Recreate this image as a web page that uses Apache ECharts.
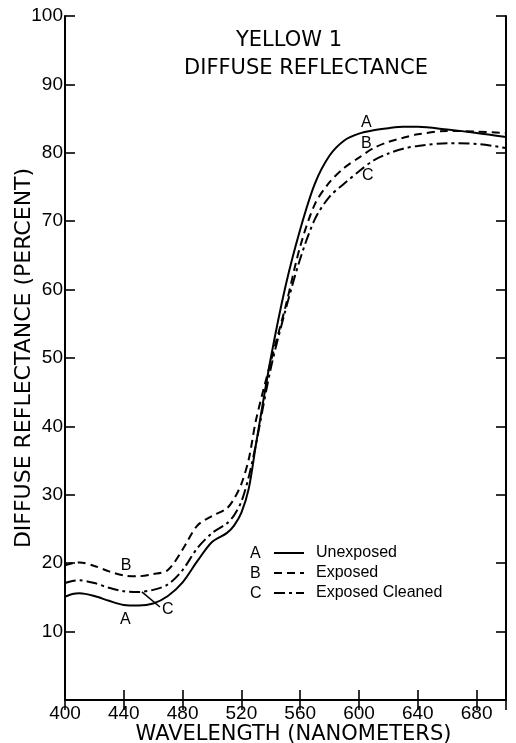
<!DOCTYPE html>
<html>
<head>
<meta charset="utf-8">
<script src="https://cdn.jsdelivr.net/npm/echarts@6/dist/echarts.min.js"></script>
<style>html,body{margin:0;padding:0;background:#fff}#c{width:516px;height:743px}</style>
</head>
<body>
<div id="c"></div>
<script>
const wavelengths = [400,405,410,420,430,440,450,460,470,480,490,500,510,515,520,525,530,540,550,560,570,580,590,600,610,620,630,640,660,680,700];
const unexposed   = [15.1,15.5,15.6,15.2,14.5,13.9,13.8,14.1,15.2,17.2,20.3,23.1,24.4,25.5,27.4,30.9,37.5,50.0,60.5,68.8,75.5,79.6,81.8,82.8,83.3,83.6,83.8,83.8,83.4,82.9,82.3];
const exposed     = [19.7,20.0,20.1,19.6,18.8,18.2,18.1,18.4,19.0,22.0,25.5,26.9,28.0,29.4,31.6,35.2,41.0,49.5,57.5,66.3,72.5,75.7,77.8,79.3,80.7,81.6,82.2,82.7,83.2,83.1,82.9];
const cleaned     = [17.1,17.4,17.5,17.1,16.4,15.9,15.8,16.1,16.9,19.0,22.2,24.4,25.8,27.0,29.0,32.6,37.5,48.5,57.0,64.5,70.3,73.6,75.5,77.3,78.9,79.9,80.6,81.0,81.4,81.3,80.7];
const seriesNames = ['Unexposed','Exposed','Exposed Cleaned'];
const seriesKeys  = ['A','B','C'];
const xTicks = [400,440,480,520,560,600,640,680];
const yTicks = [10,20,30,40,50,60,70,80,90,100];
const titleLines = ['YELLOW 1','DIFFUSE REFLECTANCE'];
const xName = 'WAVELENGTH (NANOMETERS)';
const yName = 'DIFFUSE REFLECTANCE (PERCENT)';
// curve annotation anchors [wavelength, percent]
const curveMarks = {
  A: [[605,84.4],[441,11.8]],
  B: [[605,81.3],[441.5,19.7]],
  C: [[606,76.6],[470,13.2]]
};
const leader = [[452.3,15.8],[464.6,13.6]];

const pair = arr => wavelengths.map((w,i)=>[w,arr[i]]);
const FONT = 'DejaVu Sans';
const NUMFONT = 'Liberation Sans';
const dashes = ['solid',[8,5],[11,4,3,4]];
const values = [unexposed, exposed, cleaned];

const chart = echarts.init(document.getElementById('c'), null, {renderer:'canvas'});
const axisCommon = {
  axisLine:{show:true,lineStyle:{color:'#000',width:2}},
  axisTick:{show:true,inside:true,length:10,lineStyle:{color:'#000',width:1.6}},
  splitLine:{show:false}
};
chart.setOption({
  backgroundColor:'#fff',
  animation:false,
  grid:{left:65,right:10,top:16,bottom:43,containLabel:false,outerBoundsMode:'none'},
  title:[
    {text:titleLines[0],left:284,top:25,textAlign:'center',textStyle:{fontFamily:FONT,fontWeight:'normal',fontSize:21,color:'#000'}},
    {text:titleLines[1],left:301,top:53,textAlign:'center',textStyle:{fontFamily:FONT,fontWeight:'normal',fontSize:21,color:'#000'}}
  ],
  legend:{
    orient:'vertical',left:273,top:545,padding:0,itemWidth:30,itemHeight:10,itemGap:4,
    data:seriesNames,
    itemStyle:{opacity:0},
    textStyle:{fontFamily:NUMFONT,fontSize:16,color:'#000',padding:[0,0,0,7]},
    selectedMode:false
  },
  graphic: seriesKeys.map((k,i)=>({type:'text',left:250,top:546+i*20,style:{text:k,font:'16px "Liberation Sans"',fill:'#000'}})),
  xAxis:[
    Object.assign({type:'value',min:400,max:700,interval:40,position:'bottom',
      name:xName,nameLocation:'middle',nameGap:24,nameMoveOverlap:false,
      nameTextStyle:{fontFamily:FONT,fontSize:21,color:'#000',padding:[0,0,0,16]},
      axisLabel:{margin:4,fontFamily:NUMFONT,fontSize:19,color:'#000',
        formatter:v=>xTicks.indexOf(v)>=0?String(v):''}},axisCommon),
    Object.assign({type:'value',min:400,max:700,interval:40,position:'top',axisLabel:{show:false}},axisCommon)
  ],
  yAxis:[
    Object.assign({type:'value',min:0,max:100,interval:10,position:'left',
      name:yName,nameLocation:'middle',nameGap:30,nameMoveOverlap:false,
      nameTextStyle:{fontFamily:FONT,fontSize:22,color:'#000'},
      axisLabel:{margin:2,fontFamily:NUMFONT,fontSize:19,color:'#000',
        formatter:v=>yTicks.indexOf(v)>=0?String(v):''}},axisCommon),
    Object.assign({type:'value',min:0,max:100,interval:10,position:'right',axisLabel:{show:false}},axisCommon)
  ],
  series: values.map((arr,i)=>({
    type:'line',name:seriesNames[i],data:pair(arr),smooth:0.3,symbol:'none',
    lineStyle:{color:'#000',width:2,type:dashes[i]},itemStyle:{color:'#000'},
    markPoint:{symbol:'circle',symbolSize:1,itemStyle:{color:'rgba(0,0,0,0)'},
      label:{show:true,position:'inside',formatter:seriesKeys[i],fontFamily:NUMFONT,fontSize:16,color:'#000'},
      data:curveMarks[seriesKeys[i]].map(c=>({coord:c}))},
    markLine: i===2 ? {silent:true,symbol:'none',label:{show:false},lineStyle:{color:'#000',width:1.5,type:'solid'},
      data:[[{coord:leader[0]},{coord:leader[1]}]]} : undefined
  }))
});
</script>
</body>
</html>
